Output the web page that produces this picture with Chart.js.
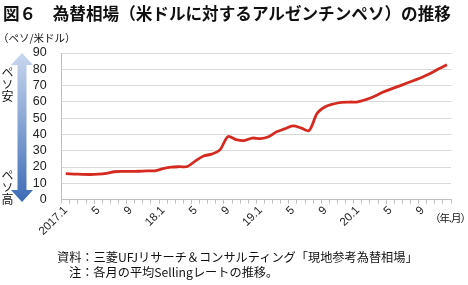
<!DOCTYPE html>
<html lang="ja">
<head>
<meta charset="utf-8">
<script src="https://cdn.jsdelivr.net/npm/chart.js@4/dist/chart.umd.min.js"></script>
<style>
  html, body { margin: 0; padding: 0; background: #fff; }
  #wrap { position: relative; width: 468px; height: 285px; overflow: hidden;
    font-family: "Noto Sans CJK JP", "Noto Sans", sans-serif; color: #111; }
  #chart { position: absolute; left: 0; top: 0; }
  .txt { position: absolute; white-space: nowrap; }
  #title { left: 3px; top: 1px; font-size: 16.6px; font-weight: bold; letter-spacing: 0; }
  #unit { left: -2px; top: 30px; font-size: 10.5px; }
  #xunit { left: 430px; top: 210px; font-size: 10.5px; letter-spacing: -1px; }
  .vert { writing-mode: vertical-rl; font-size: 12px; line-height: 12px; }
  #yasu { left: 1px; top: 66px; }
  #taka { left: 1px; top: 169px; }
  #src1 { left: 57px; top: 248px; font-size: 12.2px; }
  #src2 { left: 69px; top: 263px; font-size: 12.2px; }
  #arrow { position: absolute; left: 11px; top: 53px; }
</style>
</head>
<body>
<div id="wrap">
  <canvas id="chart" width="468" height="285"></canvas>
  <div class="txt" id="title">図６　為替相場（米ドルに対するアルゼンチンペソ）の推移</div>
  <div class="txt" id="unit">（ペソ/米ドル）</div>
  <svg id="arrow" width="22" height="149" viewBox="0 0 22 149">
    <defs>
      <linearGradient id="g" x1="0" y1="0" x2="0" y2="1">
        <stop offset="0" stop-color="#c9d7ee"/>
        <stop offset="1" stop-color="#3d6cb6"/>
      </linearGradient>
    </defs>
    <polygon fill="url(#g)" points="11,0 22,12 15.5,12 15.5,137 22,137 11,149 0,137 6.5,137 6.5,12 0,12"/>
  </svg>
  <div class="txt vert" id="yasu">ペソ安</div>
  <div class="txt vert" id="taka">ペソ高</div>
  <div class="txt" id="xunit">（年.月）</div>
  <div class="txt" id="src1">資料：三菱UFJリサーチ＆コンサルティング「現地参考為替相場」</div>
  <div class="txt" id="src2">注：各月の平均Sellingレートの推移。</div>
</div>
<script>
/** Les mois (2017.1 - 2020.12) */
const categories = [
  '2017.1','2017.2','2017.3','2017.4','2017.5','2017.6','2017.7','2017.8','2017.9','2017.10','2017.11','2017.12',
  '2018.1','2018.2','2018.3','2018.4','2018.5','2018.6','2018.7','2018.8','2018.9','2018.10','2018.11','2018.12',
  '2019.1','2019.2','2019.3','2019.4','2019.5','2019.6','2019.7','2019.8','2019.9','2019.10','2019.11','2019.12',
  '2020.1','2020.2','2020.3','2020.4','2020.5','2020.6','2020.7','2020.8','2020.9','2020.10','2020.11','2020.12'
];

/** Taux moyen mensuel (peso / dollar) */
const rates = [
  15.9, 15.7, 15.5, 15.4, 15.6, 16.1, 17.1, 17.3, 17.3, 17.4, 17.6, 17.7,
  19.0, 19.9, 20.2, 20.3, 23.8, 26.8, 27.9, 30.5, 38.7, 36.8, 36.2, 37.8,
  37.4, 38.6, 41.6, 43.4, 45.2, 44.0, 42.4, 53.0, 57.0, 58.7, 59.7, 59.9,
  60.0, 61.4, 63.3, 65.7, 67.7, 69.5, 71.4, 73.3, 75.3, 77.6, 80.3, 82.8
];

/** Étiquettes de l'axe x, une tous les 4 mois */
const tickLabels = ['2017.1','5','9','18.1','5','9','19.1','5','9','20.1','5','9'];
const tickStep = 4;

/** Axe y */
const yMin = 0;
const yMax = 90;
const yStep = 10;

const axisFont = { family: '"Liberation Sans", Arial, sans-serif', size: 11.5 };

const ctx = document.getElementById('chart').getContext('2d');
new Chart(ctx, {
  type: 'line',
  data: {
    labels: categories,
    datasets: [{
      data: rates,
      borderColor: '#d42a20',
      borderWidth: 2.8,
      pointRadius: 0,
      tension: 0.3,
      fill: false
    }]
  },
  options: {
    responsive: false,
    animation: false,
    devicePixelRatio: 1,
    layout: { padding: { top: 53, right: 17, left: 0, bottom: 0 } },
    plugins: { legend: { display: false }, tooltip: { enabled: false } },
    scales: {
      x: {
        type: 'category',
        offset: true,
        afterFit: scale => { scale.height = 85.4; },
        border: { color: '#bfbfbf', width: 1 },
        grid: { offset: true, drawOnChartArea: false, drawTicks: true, tickLength: 4, color: '#bfbfbf' },
        ticks: {
          autoSkip: false,
          maxRotation: 45,
          minRotation: 45,
          padding: 0,
          color: '#222',
          font: axisFont,
          callback: (v, i) => (i % tickStep === 0 ? tickLabels[i / tickStep] : '')
        }
      },
      y: {
        min: yMin,
        max: yMax,
        afterFit: scale => { scale.width = 61.7; },
        border: { color: '#bfbfbf', width: 1 },
        grid: { color: '#d9d9d9', drawTicks: false, lineWidth: 1 },
        ticks: { stepSize: yStep, autoSkip: false, padding: 15, color: '#222',
          font: { family: axisFont.family, size: 12.5 } }
      }
    }
  }
});
</script>
</body>
</html>
